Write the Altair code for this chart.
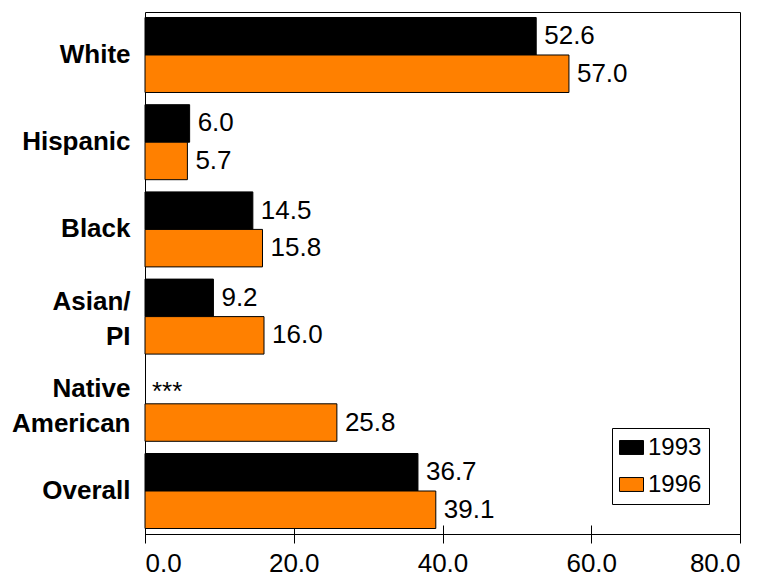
import altair as alt
import pandas as pd

# Groups in display order (line breaks mark two-line axis labels)
groups = ["White", "Hispanic", "Black", "Asian/\nPI", "Native\nAmerican", "Overall"]
years = ["1993", "1996"]
rate_1993 = [52.6, 6.0, 14.5, 9.2, None, 36.7]   # no 1993 figure for Native American
rate_1996 = [57.0, 5.7, 15.8, 16.0, 25.8, 39.1]
bar_colors = ["#000000", "#FF8000"]
x_ticks = [0, 20, 40, 60, 80]

rows = []
for g, a, b in zip(groups, rate_1993, rate_1996):
    for yr, v in zip(years, (a, b)):
        rows.append({
            "group": g,
            "year": yr,
            "rate": v,
            "pos": v if v is not None else 0.0,
            "label": f"{v:.1f}" if v is not None else "***",
        })
df = pd.DataFrame(rows)

FONT = "Liberation Sans"

y_enc = alt.Y(
    "group:N",
    sort=groups,
    title=None,
    scale=alt.Scale(paddingInner=0.14, paddingOuter=0.063),
    axis=alt.Axis(
        labelExpr="split(datum.label, '\\n')",
        labelFont=FONT,
        labelFontSize=26,
        labelFontWeight="bold",
        labelColor="black",
        labelPadding=15,
        labelLineHeight=35,
        labelLimit=300,
        # centre two-line labels on their band
        labelOffset={"condition": {"test": "indexof(datum.value, '\\n') >= 0", "value": -15}, "value": 0},
        ticks=False,
        domain=False,
        grid=False,
    ),
)
yoff_enc = alt.YOffset("year:N", sort=years, scale=alt.Scale(paddingInner=0, paddingOuter=0))

x_axis = alt.Axis(
    values=x_ticks,
    format=".1f",
    labelFont=FONT,
    labelFontSize=26,
    labelColor="black",
    labelPadding=7,
    tickSize=18,
    tickColor="black",
    tickWidth=1,
    offset=-9,
    domain=False,
    grid=False,
)

bars = alt.Chart(df).mark_bar(stroke="black", strokeWidth=1).encode(
    x=alt.X("rate:Q", scale=alt.Scale(domain=[0, 80], nice=False), axis=x_axis, title=None),
    y=y_enc,
    yOffset=yoff_enc,
    color=alt.Color(
        "year:N",
        scale=alt.Scale(domain=years, range=bar_colors),
        legend=alt.Legend(
            title=None,
            orient="none",
            legendX=467,
            legendY=416,
            padding=7,
            strokeColor="black",
            fillColor="white",
            symbolType="M-1,-0.58H1V0.58H-1Z",
            symbolSize=576,
            symbolStrokeColor="black",
            symbolStrokeWidth=1,
            symbolOpacity=1,
            labelFont=FONT,
            labelFontSize=24,
            labelColor="black",
            labelOffset=4,
            rowPadding=12,
        ),
    ),
)

value_text = alt.Chart(df).transform_filter("datum.label != '***'").mark_text(
    align="left", baseline="middle", dx=8, font=FONT, fontSize=26, color="black"
).encode(
    x=alt.X("pos:Q"),
    y=alt.Y("group:N", sort=groups),
    yOffset=yoff_enc,
    text="label:N",
)

missing_text = alt.Chart(df).transform_filter("datum.label == '***'").mark_text(
    align="left", baseline="middle", dx=7, dy=7, font=FONT, fontSize=26, color="black"
).encode(
    x=alt.X("pos:Q"),
    y=alt.Y("group:N", sort=groups),
    yOffset=yoff_enc,
    text="label:N",
)

chart = (
    alt.layer(bars, value_text, missing_text)
    .properties(
        width=595,
        height=522,
        autosize=alt.AutoSizeParams(type="none"),
        padding={"left": 145, "top": 12, "right": 28, "bottom": 42},
        background="white",
    )
    .configure_view(stroke="black", strokeWidth=1)
)

chart.save("out.html", embed_options={"renderer": "svg", "actions": False})
